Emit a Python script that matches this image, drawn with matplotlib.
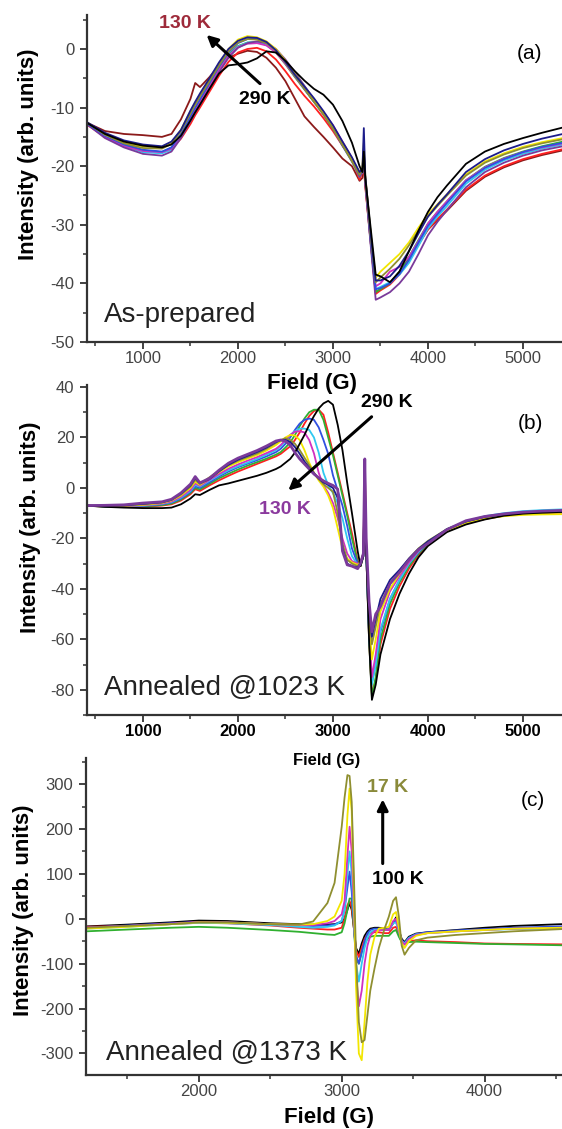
import matplotlib
matplotlib.use('Agg')
import matplotlib.pyplot as plt
from matplotlib.ticker import MultipleLocator

plt.rcParams['font.family'] = ['Liberation Sans', 'DejaVu Sans']
plt.rcParams['axes.unicode_minus'] = False

# ---------------- (a) as-prepared, 130 K .. 290 K ----------------
field_a = [400, 600, 800, 1000, 1200, 1300, 1400, 1500, 1550, 1600, 1700, 1800, 1900, 2000, 2100,
           2200, 2300, 2400, 2500, 2600, 2700, 2800, 2900, 3000, 3100, 3200, 3280, 3310, 3325, 3340,
           3400, 3450, 3500, 3600, 3700, 3800, 3900, 4000, 4100, 4200, 4400, 4600, 4800, 5000, 5200, 5420]
a_black = [-12.5, -14.5, -15.8, -16.5, -16.8, -16.3, -14.8, -12.2, -10.8, -9.5, -6.8, -4.2, -2.8, -2.6, -2.3,
           -1.6, -0.4, -0.6, -2.0, -3.8, -5.4, -6.8, -7.8, -9.5, -12.3, -16.0, -20.0, -21.0, -17.5, -22.0,
           -31.0, -38.5, -38.8, -39.8, -38.0, -34.5, -31.0, -27.8, -25.3, -23.3, -19.6, -17.5, -16.2, -15.2, -14.3, -13.4]
a_wine = [-12.5, -14.0, -14.5, -14.7, -15.0, -14.5, -12.0, -8.5, -5.8, -6.5, -4.8, -2.8, -1.5, -0.8, -0.3,
          -0.5, -1.5, -3.2, -5.5, -8.5, -11.5, -13.3, -15.0, -16.8, -18.7, -20.0, -22.5, -22.0, -19.5, -23.0,
          -33.5, -41.5, -41.0, -40.0, -38.0, -35.6, -33.2, -30.8, -29.2, -27.6, -24.2, -21.8, -20.2, -19.0, -18.1, -17.3]
a_red = [-12.8, -15.0, -16.2, -17.3, -17.6, -17.0, -15.3, -12.8, -11.3, -10.0, -7.3, -4.6, -2.2, -0.6, 0.0,
         0.2, -0.4, -1.8, -3.8, -6.0, -8.0, -9.8, -11.8, -14.0, -16.5, -18.8, -22.3, -21.0, -20.0, -23.5,
         -33.5, -41.8, -41.2, -40.2, -38.5, -36.0, -33.4, -30.8, -29.0, -27.4, -24.0, -21.6, -20.0, -18.8, -17.9, -17.1]
a_navy = [-12.4, -14.3, -15.6, -16.3, -16.6, -15.8, -13.8, -10.5, -9.0, -7.6, -5.0, -2.3, 0.0, 1.4, 2.0,
          1.9, 1.2, -0.2, -2.2, -4.4, -6.4, -8.4, -10.6, -13.0, -15.8, -18.5, -21.0, -20.5, -13.5, -21.5,
          -32.0, -39.5, -39.5, -38.8, -37.0, -34.5, -31.5, -28.6, -26.6, -24.8, -21.0, -18.8, -17.3, -16.2, -15.3, -14.5]
a_blue = [-12.6, -14.8, -16.3, -17.2, -17.5, -16.8, -14.5, -11.5, -10.0, -8.6, -5.8, -3.0, -0.6, 1.0, 1.7,
          1.8, 1.2, -0.2, -2.2, -4.6, -6.8, -9.0, -11.2, -13.6, -16.5, -19.2, -21.5, -20.5, -17.0, -22.0,
          -33.0, -41.0, -40.8, -40.0, -38.4, -36.0, -33.0, -30.2, -28.2, -26.3, -22.6, -20.3, -18.8, -17.6, -16.7, -16.0]
a_green = [-12.5, -14.8, -16.4, -17.5, -17.7, -16.8, -14.6, -11.8, -10.2, -8.9, -6.2, -3.4, -1.0, 0.5, 1.1,
           1.2, 0.7, -0.6, -2.6, -4.8, -6.9, -9.0, -11.0, -13.3, -16.0, -18.8, -21.5, -21.0, -18.5, -22.5,
           -33.0, -41.5, -41.0, -40.0, -38.0, -35.5, -32.6, -29.8, -27.8, -26.0, -22.4, -20.1, -18.6, -17.5, -16.6, -15.8]
a_yellow = [-12.4, -14.6, -16.0, -16.6, -16.8, -16.0, -13.8, -10.6, -9.2, -7.8, -5.2, -2.5, 0.0, 1.6, 2.2,
            2.0, 1.3, 0.0, -2.0, -4.3, -6.5, -8.8, -11.0, -13.4, -16.2, -18.8, -21.0, -20.0, -16.0, -21.5,
            -32.0, -39.0, -38.0, -36.5, -35.0, -33.0, -30.5, -28.2, -26.5, -24.8, -21.4, -19.2, -17.8, -16.7, -15.9, -15.2]
a_cyan = [-12.6, -14.9, -16.6, -17.6, -17.8, -17.2, -15.0, -12.2, -10.7, -9.3, -6.5, -3.7, -1.2, 0.4, 1.1,
          1.2, 0.8, -0.4, -2.4, -4.6, -6.8, -9.0, -11.0, -13.4, -16.2, -19.0, -21.8, -21.0, -18.0, -22.5,
          -33.5, -41.0, -40.6, -39.8, -38.5, -36.5, -33.6, -30.6, -28.6, -26.8, -23.0, -20.6, -19.0, -17.9, -17.0, -16.3]
a_magenta = [-12.6, -15.0, -16.6, -17.4, -17.6, -17.0, -14.8, -12.0, -10.5, -9.1, -6.4, -3.6, -1.2, 0.3, 0.9,
             1.0, 0.6, -0.6, -2.5, -4.7, -6.8, -8.9, -10.8, -13.0, -15.8, -18.6, -21.5, -20.8, -18.0, -22.5,
             -33.0, -40.5, -40.0, -38.0, -37.2, -35.5, -32.8, -29.8, -27.8, -26.0, -22.4, -20.2, -18.7, -17.6, -16.8, -16.1]
a_purple = [-12.7, -15.2, -16.8, -17.9, -18.2, -17.5, -15.2, -12.3, -10.8, -9.5, -6.8, -4.0, -1.5, 0.2, 1.0,
            1.3, 1.0, 0.0, -1.8, -4.0, -6.3, -8.6, -10.8, -13.2, -16.0, -18.8, -21.8, -21.0, -18.5, -23.0,
            -34.0, -42.8, -42.4, -41.5, -40.0, -38.0, -35.0, -31.8, -29.5, -27.5, -23.6, -21.0, -19.4, -18.2, -17.3, -16.6]
a_olive = [-12.4, -14.6, -16.1, -16.9, -17.0, -16.2, -14.0, -11.0, -9.5, -8.1, -5.5, -2.8, -0.4, 1.1, 1.7,
           1.6, 1.0, -0.3, -2.3, -4.6, -6.8, -9.0, -11.2, -13.6, -16.4, -19.2, -21.5, -20.5, -17.0, -22.0,
           -32.5, -39.8, -39.0, -37.5, -35.8, -33.5, -31.0, -28.6, -26.8, -25.0, -21.6, -19.4, -18.0, -16.9, -16.1, -15.4]

# ---------------- (b) annealed @1023 K ----------------
field_b = [400, 600, 800, 1000, 1200, 1300, 1400, 1500, 1550, 1600, 1700, 1800, 1900, 2000, 2100,
           2200, 2300, 2400, 2450, 2500, 2550, 2600, 2650, 2700, 2750, 2800, 2850, 2900, 2950, 3000,
           3050, 3100, 3150, 3200, 3260, 3290, 3320, 3335, 3350, 3380, 3410, 3450, 3500, 3600, 3700,
           3800, 3900, 4000, 4200, 4400, 4600, 4800, 5000, 5200, 5420]
b_black = [-7.0, -7.5, -7.8, -8.0, -8.0, -7.8, -6.5, -4.2, -2.5, -2.8, -0.8, 1.0, 1.8, 2.8, 3.8,
           4.8, 6.0, 7.5, 8.5, 10.0, 11.5, 14.0, 17.5, 21.0, 25.0, 28.5, 31.5, 33.5, 34.5, 33.0,
           25.0, 15.0, 2.0, -10.0, -25.0, -31.0, -27.0, -4.0, -25.0, -60.0, -84.0, -78.0, -66.0, -52.0, -42.0,
           -34.0, -27.5, -23.0, -17.5, -14.5, -12.5, -11.0, -10.2, -9.8, -9.5]
b_red = [-7.0, -7.4, -7.6, -7.5, -7.0, -6.5, -5.0, -2.5, -0.5, -1.2, 1.0, 3.0, 4.8, 6.5, 8.0,
         9.5, 11.0, 12.5, 13.5, 15.0, 16.5, 19.0, 22.0, 25.5, 28.5, 30.5, 31.0, 29.0, 22.0, 14.0,
         6.0, -2.0, -10.0, -18.0, -29.0, -31.0, -27.0, 2.0, -25.0, -60.0, -82.0, -76.0, -62.0, -48.0, -39.0,
         -32.0, -26.5, -22.5, -17.2, -14.2, -12.3, -11.0, -10.3, -10.0, -9.8]
b_green = [-7.0, -7.4, -7.5, -7.3, -6.8, -6.2, -4.6, -2.0, 0.0, -0.6, 1.6, 3.8, 5.6, 7.3, 8.8,
           10.2, 11.6, 13.2, 14.2, 16.0, 18.0, 21.0, 24.5, 27.5, 30.0, 31.0, 31.0, 27.0, 20.0, 13.0,
           5.0, -3.0, -11.0, -20.0, -29.5, -31.0, -27.0, 3.0, -25.0, -60.0, -83.0, -75.0, -60.0, -46.0, -37.5,
           -31.0, -26.0, -22.2, -17.0, -14.0, -12.0, -10.8, -10.1, -9.8, -9.6]
b_blue = [-7.0, -7.3, -7.4, -7.1, -6.5, -5.8, -4.2, -1.6, 0.6, 0.0, 2.2, 4.5, 6.5, 8.2, 9.6,
          11.0, 12.5, 14.2, 15.5, 17.5, 20.0, 23.0, 25.5, 27.0, 27.5, 27.0, 24.0, 19.0, 13.5, 5.0,
          -1.0, -7.0, -15.0, -24.0, -30.0, -30.5, -27.0, 2.0, -25.0, -58.0, -77.0, -70.0, -57.0, -44.0, -36.5,
          -30.0, -25.5, -21.8, -16.6, -13.6, -11.7, -10.5, -9.8, -9.5, -9.2]
b_cyan = [-7.0, -7.3, -7.3, -7.0, -6.3, -5.6, -3.8, -1.2, 1.2, 0.5, 2.8, 5.0, 7.0, 8.6, 10.0,
          11.5, 13.2, 15.0, 16.5, 18.5, 21.0, 22.5, 23.5, 23.5, 23.0, 20.0, 14.0, 6.0, 1.0, -2.0,
          -6.0, -12.0, -20.0, -27.0, -30.5, -30.5, -27.0, 3.0, -25.0, -58.0, -78.0, -70.0, -56.0, -44.0, -36.5,
          -30.0, -25.3, -21.6, -16.3, -13.2, -11.2, -10.0, -9.2, -8.8, -8.5]
b_magenta = [-7.0, -7.2, -7.2, -6.9, -6.2, -5.4, -3.5, -0.8, 1.8, 0.8, 3.2, 5.5, 7.6, 9.3, 10.8,
             12.2, 13.8, 15.5, 17.0, 19.0, 21.0, 22.3, 22.5, 22.0, 19.0, 13.7, 6.0, 1.0, -2.0, -6.0,
             -12.0, -20.0, -26.0, -29.0, -30.0, -30.0, -26.0, 11.0, -22.0, -55.0, -75.0, -66.0, -52.0, -41.0, -35.0,
             -29.5, -25.0, -21.5, -16.5, -13.5, -11.5, -10.3, -9.6, -9.3, -9.0]
b_yellow = [-7.0, -7.2, -7.1, -6.7, -6.0, -5.0, -3.0, 0.0, 2.5, 1.2, 3.8, 6.2, 8.5, 10.2, 11.6,
            13.0, 14.8, 17.0, 18.5, 20.0, 21.0, 20.8, 19.0, 15.0, 10.0, 6.0, 3.0, 0.5, -3.0, -8.0,
            -16.0, -24.0, -28.0, -29.5, -30.5, -29.5, -26.0, 9.5, -22.0, -52.0, -68.0, -60.0, -49.0, -40.0, -34.0,
            -28.5, -24.5, -21.5, -16.8, -14.0, -12.2, -11.2, -10.7, -10.5, -10.4]
b_olive = [-7.0, -7.1, -7.0, -6.5, -5.8, -4.8, -2.6, 0.5, 3.2, 1.6, 4.2, 6.8, 9.0, 10.8, 12.2,
           13.6, 15.5, 17.8, 19.0, 19.7, 19.0, 17.5, 15.0, 12.0, 9.0, 6.0, 3.5, 1.5, 0.0, -1.5,
           -10.0, -22.0, -28.5, -30.0, -31.0, -29.5, -26.0, 5.0, -24.0, -50.0, -62.0, -55.0, -46.0, -38.0, -33.0,
           -28.0, -24.0, -21.0, -16.3, -13.4, -11.5, -10.4, -9.8, -9.5, -9.2]
b_navy = [-7.0, -7.0, -6.9, -6.3, -5.7, -4.7, -2.3, 1.0, 4.0, 1.8, 3.5, 6.5, 9.2, 11.2, 12.7,
          14.2, 16.0, 18.2, 19.0, 19.0, 18.2, 16.2, 13.5, 10.5, 8.0, 5.8, 3.8, 2.2, 1.2, 0.0,
          -4.0, -24.0, -30.0, -31.0, -31.5, -30.0, -26.0, 2.0, -24.0, -48.0, -59.0, -52.0, -44.0, -36.5, -32.5,
          -28.0, -24.2, -21.2, -16.4, -13.3, -11.4, -10.3, -9.7, -9.4, -9.1]
b_purple = [-7.0, -6.9, -6.7, -6.0, -5.5, -4.5, -2.0, 1.5, 4.5, 2.0, 3.8, 7.0, 9.8, 11.8, 13.3,
            14.8, 16.6, 18.6, 19.0, 18.5, 17.0, 14.0, 11.5, 9.5, 7.5, 5.5, 4.0, 2.8, 1.8, 1.0,
            -0.5, -25.0, -30.5, -31.0, -32.0, -30.0, -26.0, 11.5, -20.0, -45.0, -57.0, -50.0, -47.0, -38.0, -33.5,
            -28.5, -24.5, -22.0, -16.5, -13.0, -11.3, -10.3, -9.6, -9.2, -8.9]

# ---------------- (c) annealed @1373 K, 17 K .. 100 K ----------------
field_c = [1210, 1500, 1800, 2000, 2200, 2500, 2700, 2800, 2900, 2950, 3000, 3020, 3040, 3055, 3070,
           3085, 3100, 3120, 3140, 3160, 3180, 3200, 3230, 3260, 3300, 3330, 3360, 3380, 3400, 3420,
           3440, 3470, 3520, 3600, 3800, 4000, 4200, 4540]
c_black = [-17, -13, -8, -4, -5, -10, -12, -13, -13, -12, -8, 0, 20, 35, 20,
           -20, -65, -78, -55, -38, -28, -22, -20, -20, -22, -25, -10, 3, -25, -45,
           -52, -40, -33, -30, -25, -20, -16, -12]
c_red = [-18, -16, -12, -9, -10, -15, -20, -22, -24, -24, -20, 0, 30, 40, 25,
         -20, -70, -85, -65, -45, -35, -32, -30, -30, -32, -32, -20, -18, -35, -52,
         -55, -50, -48, -50, -52, -55, -56, -57]
c_green = [-28, -24, -20, -18, -20, -25, -29, -32, -35, -36, -30, -10, 20, 45, 45,
           -20, -90, -100, -75, -55, -45, -40, -38, -38, -38, -38, -28, -25, -40, -52,
           -55, -52, -51, -52, -54, -56, -57, -59]
c_blue = [-20, -15, -10, -7, -8, -12, -15, -16, -15, -13, -5, 20, 70, 105, 60,
          -10, -80, -100, -75, -50, -33, -25, -22, -22, -23, -24, -8, -5, -25, -48,
          -54, -42, -34, -30, -26, -23, -20, -17]
c_cyan = [-22, -18, -12, -9, -10, -14, -18, -20, -18, -15, -5, 20, 100, 150, 100,
          0, -100, -140, -100, -65, -42, -30, -25, -24, -25, -25, -10, -8, -28, -50,
          -55, -43, -35, -32, -28, -25, -23, -21]
c_magenta = [-20, -16, -11, -7, -8, -12, -14, -14, -10, -5, 10, 40, 140, 205, 150,
             20, -120, -195, -160, -100, -60, -38, -27, -25, -25, -25, -5, 0, -25, -50,
             -58, -45, -36, -32, -28, -25, -22, -20]
c_yellow = [-22, -18, -12, -8, -9, -12, -13, -12, -5, 5, 40, 100, 230, 290, 240,
            60, -150, -300, -315, -230, -140, -80, -40, -22, -20, -18, 10, 15, -20, -55,
            -65, -50, -38, -32, -28, -25, -22, -20]
c_olive = [-20, -16, -12, -8, -8, -12, -13, -6, 35, 80, 205, 270, 320, 318, 260,
           100, -80, -230, -275, -270, -215, -160, -110, -65, -22, 5, 40, 48, 5, -60,
           -80, -65, -48, -42, -36, -32, -28, -23]

BLACK, WINE, RED, NAVY, BLUE = '#000000', '#8b1a1a', '#ff2020', '#1c1c8a', '#3050e0'
GREEN, YELLOW, CYAN, MAGENTA = '#30b030', '#f2e600', '#30c8f0', '#d030c0'
PURPLE, OLIVE = '#7a3a9a', '#8f8f30'
LW = 1.3


def style(ax, xmaj, xmin, ymaj, ymin):
    for s in ['top', 'right']:
        ax.spines[s].set_visible(False)
    for s in ['left', 'bottom']:
        ax.spines[s].set_linewidth(1.6)
        ax.spines[s].set_color('#333333')
    ax.xaxis.set_major_locator(MultipleLocator(xmaj))
    ax.xaxis.set_minor_locator(MultipleLocator(xmin))
    ax.yaxis.set_major_locator(MultipleLocator(ymaj))
    ax.yaxis.set_minor_locator(MultipleLocator(ymin))
    ax.tick_params(which='major', direction='out', length=5, width=1.3, color='#333333',
                   labelsize=12, labelcolor='#444444')
    ax.tick_params(axis='x', which='major', pad=1.5)
    ax.tick_params(axis='y', which='major', pad=4)
    ax.tick_params(which='minor', direction='out', length=3, width=1.1, color='#333333')


fig = plt.figure(figsize=(5.62, 11.29), dpi=100)
arrow = dict(arrowstyle='-|>', lw=2.2, color='k', mutation_scale=16, shrinkA=0, shrinkB=0)

# ---- (a)
ax1 = fig.add_axes([0.1548, 0.6971, 0.8452, 0.2896])
for ys, c in [(a_wine, WINE), (a_red, RED), (a_green, GREEN), (a_cyan, CYAN), (a_magenta, MAGENTA),
              (a_purple, PURPLE), (a_blue, BLUE), (a_yellow, YELLOW), (a_olive, OLIVE),
              (a_navy, NAVY), (a_black, BLACK)]:
    ax1.plot(field_a, ys, color=c, lw=LW)
ax1.set_xlim(411, 5411)
ax1.set_ylim(-50, 5.8)
style(ax1, 1000, 500, 10, 5)
ax1.annotate('', xy=(1670, 2.4), xytext=(2232, -5.9), arrowprops=arrow)
ax1.text(1442, 4.3, '130 K', color='#9e2a3a', fontsize=14, fontweight='bold', ha='center', va='center')
ax1.text(2284, -8.6, '290 K', color='k', fontsize=14, fontweight='bold', ha='center', va='center')
ax1.text(5074, -0.7, '(a)', fontsize=15, ha='center', va='center')
ax1.text(589, -45.4, 'As-prepared', fontsize=20, color='#222222', ha='left', va='center')

# ---- (b)
ax2 = fig.add_axes([0.1548, 0.3667, 0.8452, 0.2923])
for ys, c, w in [(b_red, RED, LW), (b_green, GREEN, LW), (b_blue, BLUE, LW), (b_cyan, CYAN, LW),
                 (b_magenta, MAGENTA, LW), (b_yellow, YELLOW, LW), (b_olive, OLIVE, LW),
                 (b_navy, NAVY, LW), (b_black, BLACK, LW), (b_purple, PURPLE, 2.0)]:
    ax2.plot(field_b, ys, color=c, lw=w)
ax2.set_xlim(411, 5411)
ax2.set_ylim(-90, 40.8)
style(ax2, 1000, 500, 20, 10)
xt_b = [1000, 2000, 3000, 4000, 5000]
ax2.set_xticks(xt_b)
ax2.set_xticklabels([str(v) for v in xt_b], fontweight='bold', color='k')
ax2.annotate('', xy=(2530, -1.0), xytext=(3407, 28.2), arrowprops=arrow)
ax2.text(3565, 33.7, '290 K', color='k', fontsize=14, fontweight='bold', ha='center', va='center')
ax2.text(2495, -8.4, '130 K', color='#8b3a9e', fontsize=14, fontweight='bold', ha='center', va='center')
ax2.text(5074, 25.7, '(b)', fontsize=15, ha='center', va='center')
ax2.text(589, -79.2, 'Annealed @1023 K', fontsize=20, color='#222222', ha='left', va='center')

# ---- (c)
ax3 = fig.add_axes([0.153, 0.0478, 0.847, 0.2808])
for ys, c in [(c_black, BLACK), (c_red, RED), (c_green, GREEN), (c_blue, BLUE), (c_cyan, CYAN),
              (c_magenta, MAGENTA), (c_yellow, YELLOW), (c_olive, OLIVE)]:
    ax3.plot(field_c, ys, color=c, lw=LW)
ax3.set_xlim(1210, 4542)
ax3.set_ylim(-348, 358)
style(ax3, 1000, 500, 100, 50)
ax3.annotate('', xy=(3287, 266), xytext=(3287, 123), arrowprops=arrow)
ax3.text(3320, 292, '17 K', color='#8a8a3a', fontsize=14, fontweight='bold', ha='center', va='center')
ax3.text(3394, 88, '100 K', color='k', fontsize=14, fontweight='bold', ha='center', va='center')
ax3.text(4335, 264, '(c)', fontsize=15, ha='center', va='center')
ax3.text(1350, -300, 'Annealed @1373 K', fontsize=20, color='#222222', ha='left', va='center')

# axis titles
fig.text(312 / 562, 1 - 383 / 1129, 'Field (G)', fontsize=16, fontweight='bold', ha='center', va='center')
fig.text(327 / 562, 1 - 760 / 1129, 'Field (G)', fontsize=12, fontweight='bold', ha='center', va='center')
fig.text(329 / 562, 1 - 1117 / 1129, 'Field (G)', fontsize=16, fontweight='bold', ha='center', va='center')
for xp, yp in [(29, 154), (31, 527), (24, 910)]:
    fig.text(xp / 562, 1 - yp / 1129, 'Intensity (arb. units)', fontsize=16, fontweight='bold',
             rotation=90, ha='center', va='center')

fig.savefig('out.png', dpi=100)
